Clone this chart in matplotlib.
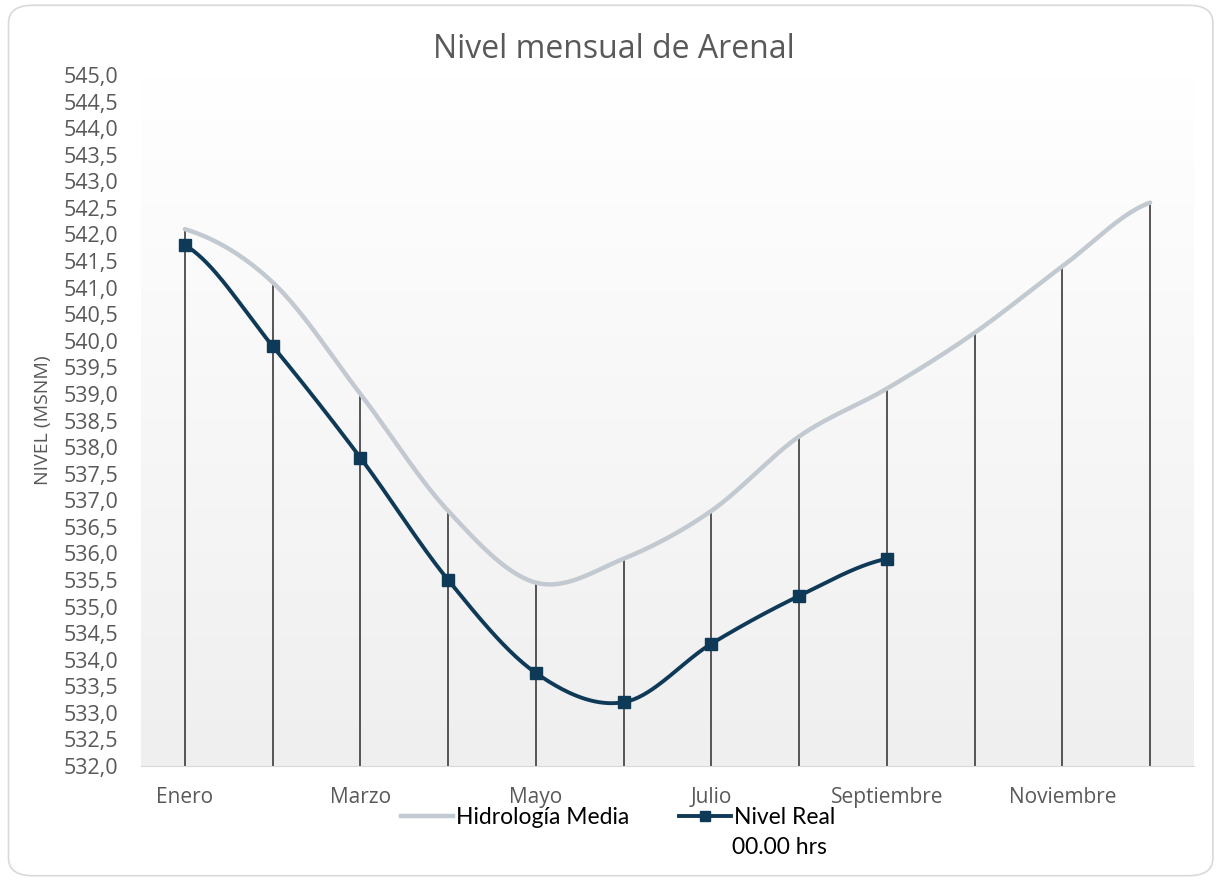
import numpy as np
import matplotlib.pyplot as plt
from matplotlib.patches import FancyBboxPatch
from matplotlib.colors import LinearSegmentedColormap

meses = ['Enero', 'Febrero', 'Marzo', 'Abril', 'Mayo', 'Junio', 'Julio',
         'Agosto', 'Septiembre', 'Octubre', 'Noviembre', 'Diciembre']
hidrologia_media = [542.1, 541.1, 539.0, 536.8, 535.45, 535.9, 536.8,
                    538.2, 539.1, 540.15, 541.4, 542.6]
nivel_real = [541.8, 539.9, 537.8, 535.5, 533.75, 533.2, 534.3, 535.2, 535.9]


def suave(y, n=40):
    # Catmull-Rom, parecido al "linea suavizada" de Excel
    y = np.asarray(y, dtype=float)
    x = np.arange(len(y), dtype=float)
    p = np.concatenate([[y[0]], y, [y[-1]]])
    xs, ys = [], []
    for i in range(len(y) - 1):
        p0, p1, p2, p3 = p[i], p[i + 1], p[i + 2], p[i + 3]
        t = np.linspace(0, 1, n, endpoint=False)
        yy = 0.5 * ((2 * p1) + (-p0 + p2) * t + (2 * p0 - 5 * p1 + 4 * p2 - p3) * t ** 2
                    + (-p0 + 3 * p1 - 3 * p2 + p3) * t ** 3)
        xs.append(x[i] + t)
        ys.append(yy)
    xs.append([x[-1]])
    ys.append([y[-1]])
    return np.concatenate(xs), np.concatenate(ys)


gris = '#595959'
fig = plt.figure(figsize=(12.19, 8.81), dpi=100)
fig.patch.set_facecolor('white')
borde = FancyBboxPatch((0.007, 0.006), 0.988, 0.988, transform=fig.transFigure,
                       boxstyle='round,pad=0,rounding_size=0.02', fc='none',
                       ec='#d9d9d9', lw=1.2)
fig.patches.append(borde)

ax = fig.add_axes([141 / 1219, 1 - 766 / 881, (1194 - 141) / 1219, (766 - 75) / 881])
ymin, ymax = 532, 545
ax.set_xlim(-0.5, len(meses) - 0.5)
ax.set_ylim(ymin, ymax)

grad = np.linspace(0, 1, 256).reshape(-1, 1)
ax.imshow(grad, cmap=LinearSegmentedColormap.from_list('g', ['#ffffff', '#efefef']),
          aspect='auto', extent=(-0.5, 11.5, ymin, ymax), origin='upper', zorder=0)

x = np.arange(len(meses))
ax.vlines(x, ymin, hidrologia_media, color='#3a3a3a', lw=1.2, zorder=2)

xs, ys = suave(hidrologia_media)
ax.plot(xs, ys, color='#c3c9d0', lw=3.2, zorder=3, solid_capstyle='round')
xr, yr = suave(nivel_real)
ax.plot(xr, yr, color='#0f3a57', lw=2.8, zorder=4)
ax.plot(np.arange(len(nivel_real)), nivel_real, ls='none', marker='s', ms=8,
        color='#0f3a57', zorder=5)

ax.set_yticks(np.arange(532, 545.01, 0.5))
ax.set_yticklabels([('%.1f' % v).replace('.', ',') for v in np.arange(532, 545.01, 0.5)])
ax.set_xticks(x[::2])
ax.set_xticklabels(meses[::2])
ax.tick_params(axis='y', length=0, pad=16.5, labelsize=15.5, labelcolor=gris)
ax.tick_params(axis='x', length=0, pad=15, labelsize=15, labelcolor=gris)
for lab in ax.get_xticklabels() + ax.get_yticklabels():
    lab.set_family('Open Sans')
for s in ['top', 'right', 'left']:
    ax.spines[s].set_visible(False)
ax.spines['bottom'].set_color('#d9d9d9')

ax.set_ylabel('NIVEL (MSNM)', fontsize=14, color=gris, family='Open Sans')
ax.yaxis.set_label_coords(-89 / 1053, 0.5)

fig.text(614 / 1219, 1 - 49 / 881, 'Nivel mensual de Arenal', ha='center', va='center',
         fontsize=23, color=gris, family='Open Sans')

h1, = ax.plot([], [], color='#c3c9d0', lw=3.2)
h2, = ax.plot([], [], color='#0f3a57', lw=2.8, marker='s', ms=7)
fig.legend([h1, h2], ['Hidrología Media', 'Nivel Real'], loc='center',
           bbox_to_anchor=(618 / 1219, 1 - 818 / 881), ncol=2, frameon=False,
           prop={'family': 'Lato', 'size': 16.5}, handlelength=2.27,
           handletextpad=0.13, columnspacing=2.2, borderpad=0, borderaxespad=0)
fig.text(779 / 1219, 1 - 848 / 881, '00.00 hrs', ha='center', va='center',
         fontsize=16.5, family='Lato', color='black')

fig.savefig('out.png', dpi=100)
